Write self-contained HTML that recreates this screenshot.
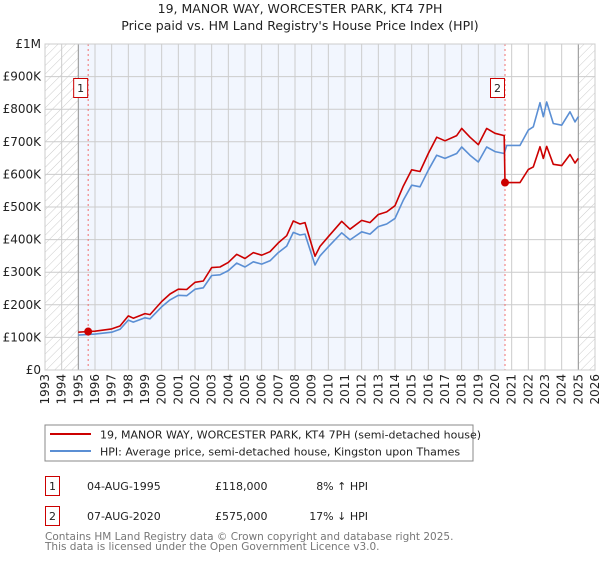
<!DOCTYPE html>
<html><head><meta charset="utf-8"><style>
body{margin:0;background:#fff;font-family:"DejaVu Sans","Liberation Sans",sans-serif;}
svg text{font-family:"DejaVu Sans","Liberation Sans",sans-serif;}
</style></head><body>
<svg id="c" width="600" height="560" xmlns="http://www.w3.org/2000/svg">
<defs><pattern id="hatch" width="6" height="6" patternUnits="userSpaceOnUse" patternTransform="rotate(45)"><line x1="0" y1="0" x2="0" y2="6" stroke="#ccc" stroke-width="1"/></pattern></defs>
<text x="300" y="13" text-anchor="middle" font-size="12.5" fill="#222">19, MANOR WAY, WORCESTER PARK, KT4 7PH</text>
<text x="300" y="30" text-anchor="middle" font-size="12.5" fill="#222">Price paid vs. HM Land Registry's House Price Index (HPI)</text>
<g id="plot"></g>
<rect x="45" y="425" width="428" height="36" fill="#fff" stroke="#888"/>
<line x1="50" y1="434" x2="91" y2="434" stroke="#cc0000" stroke-width="2"/>
<text x="100" y="438.5" font-size="11" fill="#222">19, MANOR WAY, WORCESTER PARK, KT4 7PH (semi-detached house)</text>
<line x1="50" y1="451" x2="91" y2="451" stroke="#5b8fd4" stroke-width="2"/>
<text x="100" y="455.5" font-size="11" fill="#222">HPI: Average price, semi-detached house, Kingston upon Thames</text>
<g font-size="11" fill="#222">
<rect x="45.5" y="476.5" width="14" height="19" fill="none" stroke="#cc0000"/>
<text x="52.5" y="490" text-anchor="middle">1</text>
<text x="87" y="490">04-AUG-1995</text>
<text x="215" y="490">£118,000</text>
<text x="368" y="490" text-anchor="end">8% ↑ HPI</text>
<rect x="45.5" y="506.5" width="14" height="19" fill="none" stroke="#cc0000"/>
<text x="52.5" y="520" text-anchor="middle">2</text>
<text x="87" y="520">07-AUG-2020</text>
<text x="215" y="520">£575,000</text>
<text x="368" y="520" text-anchor="end">17% ↓ HPI</text>
</g>
<text x="45" y="540" font-size="10.5" fill="#777">Contains HM Land Registry data © Crown copyright and database right 2025.</text>
<text x="45" y="550" font-size="10.5" fill="#777">This data is licensed under the Open Government Licence v3.0.</text>
</svg>
<script>
const hpiYears=[1995.0,1995.6,1996,1997,1997.5,1998,1998.3,1999,1999.3,2000,2000.5,2001,2001.5,2002,2002.5,2003,2003.5,2004,2004.5,2005,2005.5,2006,2006.5,2007,2007.5,2007.9,2008.3,2008.6,2009.2,2009.5,2010,2010.8,2011.3,2012,2012.5,2013,2013.5,2014,2014.5,2015,2015.5,2016,2016.5,2017,2017.7,2018,2018.5,2019,2019.5,2020,2020.55,2020.7,2021.5,2022,2022.3,2022.7,2022.9,2023.1,2023.5,2024,2024.5,2024.8,2025];
const hpiValues=[107,109,110,116,125,153,147,160,157,194,215,229,228,248,252,290,292,305,328,316,332,325,335,360,380,422,414,417,322,350,378,421,399,424,417,440,448,465,521,567,562,613,659,649,664,684,659,638,684,670,664,689,689,736,746,820,777,822,756,751,792,761,777];
const propYears=[1995.0,1995.6,1996,1997,1997.5,1998,1998.3,1999,1999.3,2000,2000.5,2001,2001.5,2002,2002.5,2003,2003.5,2004,2004.5,2005,2005.5,2006,2006.5,2007,2007.5,2007.9,2008.3,2008.6,2009.2,2009.5,2010,2010.8,2011.3,2012,2012.5,2013,2013.5,2014,2014.5,2015,2015.5,2016,2016.5,2017,2017.7,2018,2018.5,2019,2019.5,2020,2020.55,2020.6,2020.7,2021.5,2022,2022.3,2022.7,2022.9,2023.1,2023.5,2024,2024.5,2024.8,2025];
const propValues=[116,118,119,126,135,166,159,173,170,210,233,248,247,269,273,314,316,330,355,342,360,352,363,390,412,457,448,452,349,379,409,456,432,459,452,477,485,504,564,614,609,664,714,703,719,741,714,691,741,726,719,575,575,575,615,623,685,649,686,631,627,661,635,649];
const saleYears=[1995.59,2020.6];
const saleValues=[118,575];
const saleLabels=["1","2"];
const yTicks=[0,100,200,300,400,500,600,700,800,900,1000];
const yTickLabels=["£0","£100K","£200K","£300K","£400K","£500K","£600K","£700K","£800K","£900K","£1M"];
const xTicks=[1993,1994,1995,1996,1997,1998,1999,2000,2001,2002,2003,2004,2005,2006,2007,2008,2009,2010,2011,2012,2013,2014,2015,2016,2017,2018,2019,2020,2021,2022,2023,2024,2025,2026];

const L=45,R=595,T=44,B=370;
const X=y=>L+(y-1993)/(2026-1993)*(R-L);
const Y=v=>B-v/1000*(B-T);
const NS="http://www.w3.org/2000/svg";
const g=document.getElementById('plot');
function mk(t,a,p){const e=document.createElementNS(NS,t);for(const k in a)e.setAttribute(k,a[k]);(p||g).appendChild(e);return e;}

let e=mk('rect',{x:X(1995),y:T,width:X(saleYears[1])-X(1995),height:B-T,fill:'#f2f6fe'});


e=mk('rect',{x:L,y:T,width:X(1995)-L,height:B-T,fill:'url(#hatch)'});


e=mk('rect',{x:X(2025),y:T,width:R-X(2025),height:B-T,fill:'url(#hatch)'});



yTicks.forEach((v,i)=>{
  let l=mk('line',{x1:L,x2:R,y1:Y(v),y2:Y(v),stroke:'#ccc','stroke-width':1});
  
  
  let t=mk('text',{x:L-4,y:Y(v)+4,'text-anchor':'end','font-size':12,fill:'#222'});
  t.textContent=yTickLabels[i];
  
  
});
xTicks.forEach(yr=>{
  let l=mk('line',{x1:X(yr),x2:X(yr),y1:T,y2:B,stroke:'#ccc','stroke-width':1});
  
  
  let t=mk('text',{x:0,y:0,'text-anchor':'end','font-size':12,fill:'#222',transform:`translate(${X(yr)+4},${B+4}) rotate(-90)`});
  t.textContent=yr;
  
  
});
[1995,2025].forEach(yr=>{
  let l=mk('line',{x1:X(yr),x2:X(yr),y1:T,y2:B,stroke:'#999','stroke-width':1});
  
  
});
saleYears.forEach((yr,i)=>{
  let l=mk('line',{x1:X(yr),x2:X(yr),y1:T,y2:B,stroke:'#f07070','stroke-width':1,'stroke-dasharray':'2,3'});
  
  
});
function path(xs,vs,col,name){
  const d=xs.map((x,i)=>(i?'L':'M')+X(x).toFixed(1)+','+Y(vs[i]).toFixed(1)).join('');
  const p=mk('path',{d:d,fill:'none',stroke:col,'stroke-width':1.6,'stroke-linejoin':'round'});
  
  
}
path(hpiYears,hpiValues,'#5b8fd4','hpi-line');
path(propYears,propValues,'#cc0000','property-price-line');
saleYears.forEach((yr,i)=>{
  let c=mk('circle',{cx:X(yr),cy:Y(saleValues[i]),r:4,fill:'#cc0000'});
  
  
  let r=mk('rect',{x:X(yr)-14.5,y:78.5,width:14,height:19,fill:'#fff',stroke:'#cc0000'});
  
  
  let t=mk('text',{x:X(yr)-7.5,y:92,'text-anchor':'middle','font-size':11,fill:'#222'});
  t.textContent=saleLabels[i];
  
  
});
let fr=mk('rect',{x:L,y:T,width:R-L,height:B-T,fill:'none',stroke:'#ccc'});


</script>
</body></html>
